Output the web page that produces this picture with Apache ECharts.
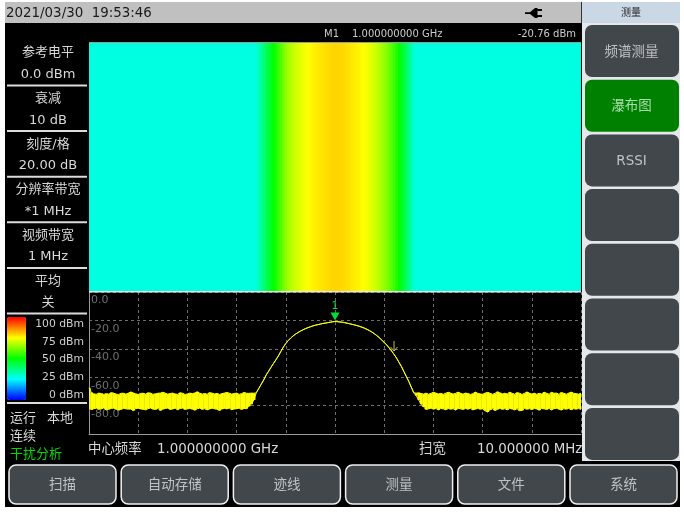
<!DOCTYPE html>
<html><head><meta charset="utf-8">
<style>html,body{margin:0;padding:0;background:#fff}#c{width:684px;height:512px}</style>
<script src="https://cdn.jsdelivr.net/npm/echarts@6/dist/echarts.min.js"></script>
</head><body><div id="c"></div>
<script>
// ---------- data ----------
const startMHz = 995, stopMHz = 1005, binMHz = 0.05;
const dbTicks = [0, -20, -40, -60, -80];
const legendLabels = ['100 dBm', '75 dBm', '50 dBm', '25 dBm', '0 dBm'];
const settingTitles = ['参考电平', '衰减', '刻度/格', '分辨率带宽', '视频带宽', '平均'];
const settingValues = ['0.0 dBm', '10 dB', '20.00 dB', '*1 MHz', '1 MHz', '关'];
const softKeys = ['频谱测量', '瀑布图', 'RSSI', '', '', '', '', ''];
const bottomKeys = ['扫描', '自动存储', '迹线', '测量', '文件', '系统'];
const noiseHighLeft = [
-67.5,-70.8,-71.8,-72,-71.2,-71.5,-72.1,-71.6,-71.9,-70.9,
-71.2,-71.9,-72.2,-71.4,-71.3,-71.9,-71.2,-70.4,-71.1,-71.7,
-72.2,-71.4,-71.3,-71.9,-71,-71.2,-72.1,-71.7,-71.3,-71.2,
-70.6,-71.3,-71.9,-71.5,-71.2,-71.8,-72.1,-71,-71.3,-72.2,
-71.8,-71.2,-71.6,-71.1,-70.3,-71.2,-71.9,-71.5,-72,-70.9,
-71.2,-71.8,-71.4,-72.2,-71.6,-71.2,-70.7,-71.3,-71.9,-71.5,
-71.2,-72.1,-71.6,-70.8,-71.3,-71.4,-71.2,-71.3];
const noiseLowLeft = [
-82,-82.8,-82.2,-81.8,-82.5,-82.3,-81.7,-83,-82.6,-82,
-81.8,-82.4,-83.2,-82.6,-82,-82.3,-82.5,-82.4,-83.5,-82.2,
-81.8,-82.4,-82.6,-83,-82.1,-81.7,-82.5,-82.7,-82,-83.4,
-82.5,-82,-81.8,-82.7,-82.4,-81.8,-82.9,-82,-81.8,-82.7,
-82.3,-82,-82.5,-83.2,-82.2,-81.8,-82.6,-82.2,-83,-82.4,
-81.8,-82.3,-82.5,-83.4,-82.4,-82,-82.3,-81.8,-82.9,-82.4,
-82.2,-81.8,-82.7,-82,-82.2,-80.5,-79,-76];
const arcTrace = [
-71,-68,-65,-62,-58.5,-55.8,-53,-50.3,-47.7,-45,
-41.8,-38.8,-36.3,-34.2,-32.4,-30.9,-29.6,-28.5,-27.5,-26.6,
-25.8,-25.1,-24.5,-23.9,-23.4,-23,-22.6,-22.2,-21.9,-21.6,
-21.3,-21,-20.76,-20.9,-21.1,-21.3,-21.6,-22,-22.4,-22.8,
-23.2,-23.7,-24.2,-24.8,-25.5,-26.3,-27.2,-28.2,-29.4,-30.7,
-32.2,-33.8,-35.5,-37.3,-39.3,-41.5,-43.9,-46.5,-49.5,-52.5,
-56,-59.5,-63,-67,-71];
const noiseHighRight = [
-71.2,-71,-71.5,-71.9,-71.2,-72,-71.4,-70.6,-71.2,-71.8,
-71.4,-72.1,-71.3,-70.6,-71.2,-71.9,-71.4,-70.5,-71.3,-71.9,
-71.2,-71.5,-72.2,-71.6,-70.5,-71.3,-71.8,-72,-71.2,-70.7,
-71.3,-72.1,-71.4,-70.3,-71,-71.8,-71.3,-71.8,-70.6,-71.4,
-72,-70.9,-71.3,-72.2,-71.4,-70.4,-71.2,-71.8,-71.3,-72,
-71.4,-71.8,-70.6,-71.3,-72,-70.7,-71.3,-71.2,-72,-70.8,
-71.3,-72,-71.2,-70.5,-71.3,-71.6,-71.9,-71.3];
const noiseLowRight = [
-73,-76,-79,-81,-82.7,-82.3,-81.8,-82.5,-82,-83,
-82.1,-82.3,-82.9,-82,-82.5,-82.2,-83.1,-82,-82.3,-82.7,
-82,-82.5,-81.9,-83,-82.5,-82,-82.5,-82.3,-83.6,-84.5,
-83,-82.2,-83.4,-82.6,-82,-82.6,-82.2,-83,-82,-82.4,
-83,-82.2,-83.6,-83.4,-82,-82.5,-82.2,-82.8,-82,-82.4,
-83.2,-82,-82.3,-82.7,-82,-83,-82.2,-81.9,-82.5,-83.1,
-82.2,-82.5,-82,-82.9,-82.2,-82.5,-82,-82.7];
const waterfallFloor = 28;   // displayed level of the noise floor, on the 0-100 colour scale
const colourStops = ['#0000ff', '#00ffff', '#00ff00', '#ffff00', '#ff0000'];
const peak = { mhz: 1000, db: -20.76 };
const cursor2 = { mhz: 1001.2, db: -38 };

// ---------- derived ----------
const traceHigh = noiseHighLeft.concat(arcTrace, noiseHighRight);
const traceLow = noiseLowLeft.concat(arcTrace, noiseLowRight);
const freqAt = i => startMHz + i * binMHz;
const highPts = traceHigh.map((v, i) => [freqAt(i), v]);
const lowPts = traceLow.map((v, i) => [freqAt(i), v]);
const bandPts = traceHigh.map((v, i) => [freqAt(i), traceLow[i], v]).filter(p => p[2] - p[1] > 0.5);
const arcStart = noiseHighLeft.length, arcEnd = arcStart + arcTrace.length;
const waterfallCells = traceHigh.map((v, i) => [freqAt(i), 0,
  (i >= arcStart && i < arcEnd) ? Math.max(v + 100, waterfallFloor) : waterfallFloor]);

// ---------- page furniture ----------
const FONT = '"DejaVu Sans","Noto Sans CJK SC",sans-serif';
const g = [];
const rect = (x, y, w, h, fill, extra) => g.push({ type: 'rect', silent: true, shape: { x, y, width: w, height: h, r: (extra && extra.r) || 0 },
  style: { fill, stroke: extra && extra.stroke, lineWidth: extra && extra.lw }, z: (extra && extra.z) || 1 });
const text = (s, x, y, size, fill, align) => g.push({ type: 'text', silent: true, z: 10,
  style: { text: s, x, y: y + 1, fill, font: size + 'px ' + FONT, textAlign: align || 'left', textVerticalAlign: 'middle' } });

rect(5, 23, 577, 484, '#000');
rect(5, 461, 675, 46, '#000');
rect(5, 2, 576, 21, '#c0c0c0');
rect(582, 2, 98, 21, '#c9d8e4');
rect(581, 2, 1, 21, '#333');
rect(582, 23, 98, 438, '#e4e8ea');
text('2021/03/30  19:53:46', 6, 12.5, 13.4, '#1a1a1a');
text('测量', 631, 12.5, 10, '#222', 'center');
g.push({ type: 'polygon', silent: true, z: 10,
  shape: { points: [[525, 12.2], [530, 12.2], [535, 8], [537.5, 8], [537.5, 9], [542, 9], [542, 11], [537.5, 11], [537.5, 15], [542, 15], [542, 17], [537.5, 17], [537.5, 18], [535, 18], [530, 14], [525, 14]] },
  style: { fill: '#000' } });
text('M1', 324, 33, 10, '#ccc');
text('1.000000000 GHz', 352, 33, 10, '#ccc');
text('-20.76 dBm', 576, 33, 10, '#ccc', 'right');
rect(89, 42, 492, 1, '#9a9a9a', { z: 5 });
rect(89, 291, 492, 1.5, '#e6e6e6', { z: 5 });

settingTitles.forEach((t, i) => {
  text(t, 48, 52 + 45.7 * i, 13, '#d8d8d8', 'center');
  text(settingValues[i], 48, 74 + 45.5 * i, 13, '#d8d8d8', 'center');
  rect(7, 84.5 + 45.6 * i, 80, 2, '#dcdcdc');
});
legendLabels.forEach((t, i) => text(t, 84, 323 + 17.8 * i, 10.8, '#d0d0d0', 'right'));
rect(7, 402, 80, 2, '#dcdcdc');
text('运行', 10, 418, 13, '#d8d8d8');
text('本地', 47, 418, 13, '#d8d8d8');
text('连续', 10, 436, 13, '#d8d8d8');
text('干扰分析', 10, 454, 13, '#00d800');
text('中心频率', 88, 448.5, 13.4, '#d8d8d8');
text('1.000000000 GHz', 157, 448.5, 13.4, '#d8d8d8');
text('扫宽', 419, 448.5, 13.4, '#d8d8d8');
text('10.000000 MHz', 477, 448.5, 13.4, '#d8d8d8');

softKeys.forEach((t, i) => {
  const y = 25 + 54.7 * i;
  rect(585, y, 94, 52, i === 1 ? '#008000' : '#42474c', { r: 7, z: 2 });
  if (t) text(t, 631.5, y + 26, 13.5, i === 1 ? '#a8dca8' : '#bfc3c6', 'center');
});
rect(5, 461, 675, 3, '#000', { z: 3 });
bottomKeys.forEach((t, i) => {
  const x = 9 + 112.2 * i;
  rect(x, 465, 107, 39, '#42474c', { r: 7, z: 2, stroke: '#f0f0f0', lw: 1.5 });
  text(t, x + 53.5, 484, 13.5, '#bfc3c6', 'center');
});

// ---------- chart ----------
const grids = [
  { left: 89, top: 43, width: 492, height: 248 },
  { left: 89, top: 292, width: 492, height: 142 }
];
const chart = echarts.init(document.getElementById('c'), null, { renderer: 'canvas' });
chart.setOption({
  animation: false,
  backgroundColor: 'transparent',
  graphic: { elements: g },
  grid: grids,
  xAxis: [
    { gridIndex: 0, type: 'value', min: startMHz, max: stopMHz, show: false },
    { gridIndex: 1, type: 'value', min: startMHz, max: stopMHz, interval: 1, z: 3,
      axisLabel: { show: false }, axisTick: { show: false },
      axisLine: { show: true, onZero: false, lineStyle: { color: '#9a9a9a', width: 1 } },
      splitLine: { show: true, lineStyle: { color: '#6e6e6e', type: [3, 3], width: 1 } } }
  ],
  yAxis: [
    { gridIndex: 0, type: 'value', min: 0, max: 1, show: false },
    { gridIndex: 1, type: 'value', min: -100, max: 0, interval: 20, z: 3,
      axisLine: { show: true, onZero: false, lineStyle: { color: '#9a9a9a', width: 1 } },
      axisTick: { show: false },
      axisLabel: { inside: true, margin: 2, color: '#6f6f6f', fontSize: 11, fontFamily: FONT,
        verticalAlign: 'top', padding: [3, 0, 0, 0],
        formatter: v => dbTicks.includes(v) ? v.toFixed(1) : '' },
      splitLine: { show: true, lineStyle: { color: '#6e6e6e', type: [3, 3], width: 1 } } }
  ],
  visualMap: {
    type: 'continuous', seriesIndex: 0, dimension: 2, min: 0, max: 100, calculable: false, realtime: false,
    left: 7, top: 317, itemWidth: 19, itemHeight: 83, text: ['', ''], showLabel: false,
    textStyle: { color: 'transparent', fontSize: 1 }, padding: 0,
    inRange: { color: colourStops }
  },
  series: [
    { name: 'waterfall', type: 'custom', xAxisIndex: 0, yAxisIndex: 0, data: waterfallCells, silent: true, z: 2,
      encode: { x: 0, y: 1 },
      renderItem: (p, api) => {
        const a = api.coord([api.value(0) - binMHz / 2, 1]);
        const b = api.coord([api.value(0) + binMHz / 2, 0]);
        return { type: 'rect', shape: { x: a[0], y: a[1], width: b[0] - a[0] + 1, height: b[1] - a[1] },
          style: { fill: api.visual('color') } };
      },
      clip: true },
    { name: 'noise band', type: 'custom', xAxisIndex: 1, yAxisIndex: 1, data: bandPts, silent: true, z: 4, clip: true,
      encode: { x: 0, y: [1, 2] },
      renderItem: (p, api) => {
        const a = api.coord([api.value(0) - binMHz / 2, api.value(2)]);
        const b = api.coord([api.value(0) + binMHz / 2, api.value(1)]);
        return { type: 'rect', shape: { x: a[0], y: a[1], width: b[0] - a[0] + 0.4, height: b[1] - a[1] }, style: { fill: '#ffff00' } };
      } },
    { name: 'trace max', type: 'line', xAxisIndex: 1, yAxisIndex: 1, data: highPts, showSymbol: false, silent: true, z: 5,
      lineStyle: { color: '#ffff00', width: 1 },
      markPoint: { silent: true, animation: false, data: [
        { coord: [peak.mhz, peak.db], symbol: 'triangle', symbolRotate: 180, symbolSize: [9, 8], symbolOffset: [0, -5],
          itemStyle: { color: '#00e030' },
          label: { show: true, formatter: '1', position: 'top', distance: 1, color: '#00e030', fontSize: 11, fontFamily: FONT } },
        { coord: [cursor2.mhz, cursor2.db], symbol: 'path://M5 0 L5 10 M1.5 6 L5 10 L8.5 6', symbolSize: [7, 10],
          itemStyle: { color: 'transparent', borderColor: '#e8e860', borderWidth: 0.8 }, label: { show: false } }
      ] } },
    { name: 'trace min', type: 'line', xAxisIndex: 1, yAxisIndex: 1, data: lowPts, showSymbol: false, silent: true, z: 5,
      lineStyle: { color: '#ffff00', width: 1 } }
  ]
});
</script></body></html>
